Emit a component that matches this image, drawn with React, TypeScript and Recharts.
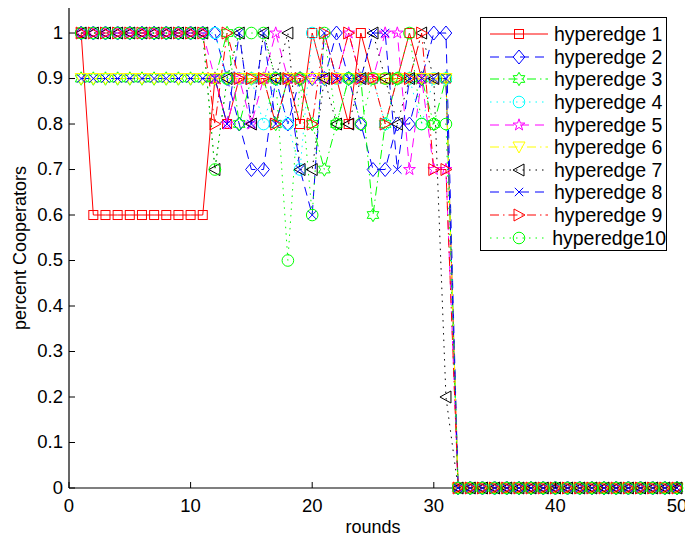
import React from "react";
import { LineChart, Line, XAxis, YAxis, Legend } from "recharts";

// rounds 1..50
const rounds = [
  1, 2, 3, 4, 5, 6, 7, 8, 9, 10, 11, 12, 13, 14, 15, 16, 17, 18, 19, 20, 21, 22, 23, 24, 25,
  26, 27, 28, 29, 30, 31, 32, 33, 34, 35, 36, 37, 38, 39, 40, 41, 42, 43, 44, 45, 46, 47, 48, 49, 50,
];

const he1 = [
  1, 0.6, 0.6, 0.6, 0.6, 0.6, 0.6, 0.6, 0.6, 0.6, 0.6,
  0.9, 0.8, 0.9, 0.9, 0.9, 0.9, 0.9, 0.8, 1, 0.9, 0.9, 0.8, 1, 0.9, 0.9, 0.9, 1, 0.9, 0.9, 0.9,
  0, 0, 0, 0, 0, 0, 0, 0, 0, 0, 0, 0, 0, 0, 0, 0, 0, 0, 0,
];
const he2 = [
  1, 1, 1, 1, 1, 1, 1, 1, 1, 1, 1,
  1, 0.9, 0.8, 0.7, 0.7, 0.9, 0.8, 0.9, 0.9, 0.9, 1, 0.9, 0.8, 0.7, 0.7, 0.8, 0.8, 0.9, 1, 1,
  0, 0, 0, 0, 0, 0, 0, 0, 0, 0, 0, 0, 0, 0, 0, 0, 0, 0, 0,
];
const he3 = [
  0.9, 0.9, 0.9, 0.9, 0.9, 0.9, 0.9, 0.9, 0.9, 0.9, 0.9,
  0.9, 1, 0.8, 0.9, 0.9, 0.8, 0.9, 0.9, 0.8, 0.7, 0.8, 0.9, 0.9, 0.6, 0.8, 0.9, 0.9, 0.9, 0.8, 0.9,
  0, 0, 0, 0, 0, 0, 0, 0, 0, 0, 0, 0, 0, 0, 0, 0, 0, 0, 0,
];
const he4 = [
  1, 1, 1, 1, 1, 1, 1, 1, 1, 1, 1,
  1, 0.9, 0.9, 0.9, 0.8, 0.9, 0.8, 0.7, 1, 0.9, 0.9, 0.9, 0.9, 0.9, 0.8, 0.9, 0.9, 0.8, 0.9, 0.9,
  0, 0, 0, 0, 0, 0, 0, 0, 0, 0, 0, 0, 0, 0, 0, 0, 0, 0, 0,
];
const he5 = [
  1, 1, 1, 1, 1, 1, 1, 1, 1, 1, 1,
  0.9, 0.8, 0.9, 0.8, 0.9, 1, 0.9, 0.9, 0.9, 0.9, 0.9, 1, 0.9, 0.9, 1, 1, 0.7, 0.9, 0.7, 0.7,
  0, 0, 0, 0, 0, 0, 0, 0, 0, 0, 0, 0, 0, 0, 0, 0, 0, 0, 0,
];
const he6 = [
  0.9, 0.9, 0.9, 0.9, 0.9, 0.9, 0.9, 0.9, 0.9, 0.9, 0.9,
  0.9, 0.9, 0.9, 0.9, 0.9, 0.9, 0.9, 0.9, 0.9, 0.9, 0.9, 0.9, 0.9, 0.9, 0.9, 0.9, 0.9, 0.9, 0.9, 0.9,
  0, 0, 0, 0, 0, 0, 0, 0, 0, 0, 0, 0, 0, 0, 0, 0, 0, 0, 0,
];
const he7 = [
  1, 1, 1, 1, 1, 1, 1, 1, 1, 1, 1,
  0.7, 0.9, 1, 0.8, 1, 0.9, 1, 0.7, 0.7, 0.9, 0.8, 0.8, 0.9, 1, 0.9, 0.8, 0.9, 1, 0.9, 0.2,
  0, 0, 0, 0, 0, 0, 0, 0, 0, 0, 0, 0, 0, 0, 0, 0, 0, 0, 0,
];
const he8 = [
  0.9, 0.9, 0.9, 0.9, 0.9, 0.9, 0.9, 0.9, 0.9, 0.9, 0.9,
  0.9, 0.8, 1, 0.8, 1, 0.8, 0.9, 0.7, 0.6, 1, 0.9, 0.9, 0.9, 1, 1, 0.7, 0.9, 0.9, 0.9, 0.9,
  0, 0, 0, 0, 0, 0, 0, 0, 0, 0, 0, 0, 0, 0, 0, 0, 0, 0, 0,
];
const he9 = [
  1, 1, 1, 1, 1, 1, 1, 1, 1, 1, 1,
  0.8, 1, 0.9, 0.9, 0.9, 0.8, 0.9, 0.9, 0.8, 1, 0.9, 1, 0.9, 0.9, 0.8, 0.9, 0.9, 1, 0.7, 0.7,
  0, 0, 0, 0, 0, 0, 0, 0, 0, 0, 0, 0, 0, 0, 0, 0, 0, 0, 0,
];
const he10 = [
  1, 1, 1, 1, 1, 1, 1, 1, 1, 1, 1,
  0.7, 0.9, 1, 1, 1, 0.9, 0.5, 0.9, 0.6, 1, 0.8, 0.9, 0.8, 0.9, 0.9, 0.9, 1, 0.8, 0.8, 0.8,
  0, 0, 0, 0, 0, 0, 0, 0, 0, 0, 0, 0, 0, 0, 0, 0, 0, 0, 0,
];

const seriesNames = [
  "hyperedge 1", "hyperedge 2", "hyperedge 3", "hyperedge 4", "hyperedge 5",
  "hyperedge 6", "hyperedge 7", "hyperedge 8", "hyperedge 9", "hyperedge10",
];
const seriesValues = [he1, he2, he3, he4, he5, he6, he7, he8, he9, he10];

const xTicks = [0, 10, 20, 30, 40, 50];
const yTicks = [0, 0.1, 0.2, 0.3, 0.4, 0.5, 0.6, 0.7, 0.8, 0.9, 1];

const FONT = '"Liberation Sans", Arial, Helvetica, sans-serif';
const TICK_LEN = 6;

const DASHED = "9 6";
const DOTTED = "1.5 5";
const DASHDOT = "9 4 1.5 4";

// matlab-ish line specs, one per series
const styles = [
  { color: "#ff0000", dash: undefined, shape: "square" },
  { color: "#0000ff", dash: DASHED, shape: "diamond" },
  { color: "#00ff00", dash: DASHDOT, shape: "hexagram" },
  { color: "#00ffff", dash: DOTTED, shape: "circle" },
  { color: "#ff00ff", dash: DASHED, shape: "pentagram" },
  { color: "#ffff00", dash: DASHDOT, shape: "triangleDown" },
  { color: "#000000", dash: DOTTED, shape: "triangleLeft" },
  { color: "#0000ff", dash: DASHED, shape: "cross" },
  { color: "#ff0000", dash: DASHDOT, shape: "triangleRight" },
  { color: "#00ff00", dash: DOTTED, shape: "circle" },
];

const rows = rounds.map((r, i) => {
  const row: any = { round: r };
  seriesValues.forEach((vals, k) => {
    row[`s${k + 1}`] = vals[i];
  });
  return row;
});

const starPoints = (cx: number, cy: number, outer: number, inner: number, n: number) => {
  const pts: string[] = [];
  for (let i = 0; i < n * 2; i++) {
    const r = i % 2 === 0 ? outer : inner;
    const a = -Math.PI / 2 + (i * Math.PI) / n;
    pts.push(`${cx + r * Math.cos(a)},${cy + r * Math.sin(a)}`);
  }
  return pts.join(" ");
};

const Marker = ({ cx, cy, shape, color }: any) => {
  const p = { fill: "none", stroke: color, strokeWidth: 1 };
  switch (shape) {
    case "square":
      return <rect x={cx - 4.5} y={cy - 4.5} width={9} height={9} {...p} />;
    case "diamond":
      return <polygon points={`${cx},${cy - 7} ${cx + 5.8},${cy} ${cx},${cy + 7} ${cx - 5.8},${cy}`} {...p} />;
    case "circle":
      return <circle cx={cx} cy={cy} r={5.8} {...p} />;
    case "hexagram":
      return <polygon points={starPoints(cx, cy, 6.7, 3.87, 6)} {...p} />;
    case "pentagram":
      return <polygon points={starPoints(cx, cy, 6.2, 2.4, 5)} {...p} />;
    case "triangleDown":
      return <polygon points={`${cx - 6},${cy - 5} ${cx + 6},${cy - 5} ${cx},${cy + 6}`} {...p} />;
    case "triangleLeft":
      return <polygon points={`${cx - 6},${cy} ${cx + 5},${cy - 6} ${cx + 5},${cy + 6}`} {...p} />;
    case "triangleRight":
      return <polygon points={`${cx + 6},${cy} ${cx - 5},${cy - 6} ${cx - 5},${cy + 6}`} {...p} />;
    case "cross":
      return (
        <path
          d={`M${cx - 4.2},${cy - 4.2}L${cx + 4.2},${cy + 4.2}M${cx + 4.2},${cy - 4.2}L${cx - 4.2},${cy + 4.2}`}
          {...p}
        />
      );
    default:
      return null;
  }
};

const fmtY = (v: number) => (v === 0 ? "0" : v === 1 ? "1" : v.toFixed(1));

const BottomTick = ({ x, y, payload }: any) => (
  <g>
    <line x1={x} x2={x} y1={y} y2={y - TICK_LEN} stroke="#000" />
    <text x={x} y={y + 24} textAnchor="middle" fontSize={18.5} fontFamily={FONT} fill="#000">
      {payload.value}
    </text>
  </g>
);

const TopTick = ({ x, y }: any) => <line x1={x} x2={x} y1={y} y2={y + TICK_LEN} stroke="#000" />;

const LeftTick = ({ x, y, payload }: any) => (
  <g>
    <line x1={x} x2={x + TICK_LEN} y1={y} y2={y} stroke="#000" />
    <text x={x - 6} y={y + 5.5} textAnchor="end" fontSize={18.5} fontFamily={FONT} fill="#000">
      {fmtY(payload.value)}
    </text>
  </g>
);

const RightTick = ({ x, y }: any) => <line x1={x} x2={x - TICK_LEN} y1={y} y2={y} stroke="#000" />;

const renderLegend = () => (
  <div
    style={{
      width: 187,
      height: 234,
      boxSizing: "border-box",
      border: "1px solid #000",
      background: "#fff",
      paddingTop: 5,
      fontFamily: FONT,
    }}
  >
    {seriesNames.map((name, i) => (
      <div key={name} style={{ display: "flex", alignItems: "center", height: 22.6 }}>
        <svg width={70} height={22} style={{ display: "block" }}>
          <line x1={9} x2={67} y1={11} y2={11} stroke={styles[i].color} strokeDasharray={styles[i].dash} />
          <Marker cx={38} cy={11} shape={styles[i].shape} color={styles[i].color} />
        </svg>
        <span style={{ marginLeft: 3, fontSize: 19.5, color: "#000", whiteSpace: "nowrap", lineHeight: "22px" }}>
          {name}
        </span>
      </div>
    ))}
  </div>
);

export default function App() {
  return (
    <div style={{ position: "absolute", left: 0, top: 0, width: 685, height: 541, background: "#fff" }}>
      <LineChart width={685} height={541} data={rows} margin={{ top: 8, right: 8, left: 0, bottom: 0 }}>
        <XAxis
          dataKey="round"
          type="number"
          domain={[0, 50]}
          ticks={xTicks}
          interval={0}
          height={53}
          tickSize={0}
          tickMargin={0}
          tickLine={false}
          axisLine={{ stroke: "#000", strokeWidth: 1.2 }}
          tick={(p: any) => <BottomTick {...p} />}
          label={(p: any) => {
            const vb = p.viewBox;
            return (
              <text x={vb.x + vb.width / 2} y={vb.y + 45} textAnchor="middle" fontSize={18} fontFamily={FONT} fill="#000">
                rounds
              </text>
            );
          }}
        />
        <XAxis
          xAxisId="top"
          orientation="top"
          dataKey="round"
          type="number"
          domain={[0, 50]}
          allowDataOverflow
          ticks={xTicks}
          interval={0}
          height={0}
          tickSize={0}
          tickMargin={0}
          tickLine={false}
          axisLine={{ stroke: "#000", strokeWidth: 1.2 }}
          tick={(p: any) => <TopTick {...p} />}
        />
        <YAxis
          type="number"
          domain={[0, 1.055]}
          ticks={yTicks}
          interval={0}
          width={69}
          tickSize={0}
          tickMargin={0}
          tickLine={false}
          axisLine={{ stroke: "#000", strokeWidth: 1.2 }}
          tick={(p: any) => <LeftTick {...p} />}
          label={(p: any) => {
            const vb = p.viewBox;
            const cx = vb.x + 25.5;
            const cy = vb.y + vb.height / 2;
            return (
              <text
                x={cx}
                y={cy}
                transform={`rotate(-90 ${cx} ${cy})`}
                textAnchor="middle"
                fontSize={18}
                fontFamily={FONT}
                fill="#000"
              >
                percent Cooperators
              </text>
            );
          }}
        />
        <YAxis
          yAxisId="right"
          orientation="right"
          type="number"
          domain={[0, 1.055]}
          allowDataOverflow
          ticks={yTicks}
          interval={0}
          width={0}
          tickSize={0}
          tickMargin={0}
          tickLine={false}
          axisLine={{ stroke: "#000", strokeWidth: 1.2 }}
          tick={(p: any) => <RightTick {...p} />}
        />
        <Legend
          layout="vertical"
          align="center"
          verticalAlign="middle"
          content={renderLegend}
          wrapperStyle={{ left: 480, top: 17, width: 187, height: 234 }}
        />
        {seriesNames.map((name, i) => (
          <Line
            key={name}
            name={name}
            dataKey={`s${i + 1}`}
            type="linear"
            stroke={styles[i].color}
            strokeWidth={1}
            strokeDasharray={styles[i].dash}
            isAnimationActive={false}
            activeDot={false}
            dot={(p: any) => (
              <Marker key={`${name}-${p.index}`} cx={p.cx} cy={p.cy} shape={styles[i].shape} color={styles[i].color} />
            )}
          />
        ))}
      </LineChart>
    </div>
  );
}
